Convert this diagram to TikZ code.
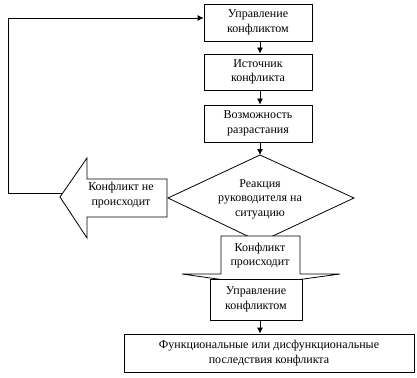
\documentclass[tikz,border=0pt]{standalone}
\usepackage{fontspec}
\setmainfont{Liberation Serif}
\newfontfamily\rusfont{Liberation Serif}
\usetikzlibrary{arrows.meta}
\begin{document}
\begin{tikzpicture}[x=1pt,y=-1pt,
  box/.style={draw,line width=0.8pt,fill=white,minimum width=#1,align=center,inner sep=0pt,
    font=\rusfont\fontsize{12}{14.5}\selectfont},
  txt/.style={align=center,inner sep=0pt,font=\rusfont\fontsize{12}{14.5}\selectfont},
  shp/.style={draw,line width=0.8pt,fill=white},
  arr/.style={line width=0.8pt,-{Latex[length=6pt,width=6pt]}}]
\useasboundingbox (0,0) rectangle (417,377);
% boxes
\node[box=108pt,minimum height=37pt] (b1) at (258,22.5) {Управление\\конфликтом};
\node[box=108pt,minimum height=36pt] (b2) at (258,72) {Источник\\конфликта};
\node[box=108pt,minimum height=37pt] (b3) at (258,123.5) {Возможность\\разрастания};
% diamond
\draw[shp] (260,155) -- (354,198) -- (260,242) -- (168,198) -- cycle;
\node[txt] (d) at (260,199) {Реакция\\руководителя на\\ситуацию};
% left block arrow
\draw[shp] (167,179) -- (87,179) -- (87,158) -- (60,197) -- (87,238) -- (87,217) -- (167,217) -- cycle;
\node[txt] (no) at (121,195) {Конфликт не\\происходит};
% down block arrow
\draw[shp] (221,236) -- (300,236) -- (300,274) -- (340,274) -- (260,285) -- (182,274) -- (221,274) -- cycle;
\node[txt] (yes) at (260,255.5) {Конфликт\\происходит};
\node[box=92pt,minimum height=41pt] (b4) at (256,299.5) {Управление\\конфликтом};
\node[box=290pt,minimum height=38pt] (b5) at (269,353) {Функциональные или дисфункциональные\\последствия конфликта};
% arrows
\draw[arr] (b1.south -| 260,0) -- (b2.north -| 260,0);
\draw[arr] (b2.south -| 260,0) -- (b3.north -| 260,0);
\draw[arr] (b3.south -| 260,0) -- (260,155);
\draw[arr] (b4.south -| 260,0) -- (b5.north -| 260,0);
% loop
\coordinate (t) at (62,193);
\coordinate (c1) at (8,193);
\coordinate (c2) at (8,18);
\draw[arr] (t) -- (c1) -- (c2) -- (c2 -| b1.west);
\end{tikzpicture}
\end{document}
